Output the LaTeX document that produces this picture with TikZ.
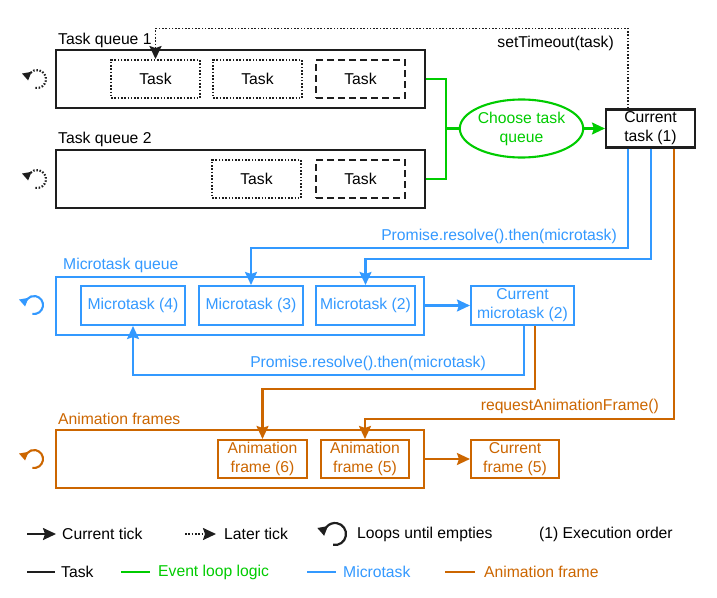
\documentclass[tikz,border=0pt]{standalone}
\usepackage{fontspec}
\setmainfont{Liberation Sans}
\usetikzlibrary{arrows.meta,shapes.geometric,calc}
\definecolor{cgreen}{HTML}{00CC00}
\definecolor{cblue}{HTML}{3399FF}
\definecolor{corange}{HTML}{CC6600}
\definecolor{cblack}{HTML}{1E1E1E}
\tikzset{
  bigbox/.style={draw, line width=2.1pt, inner sep=0pt, minimum width=368pt, minimum height=58pt},
  smallbox/.style={draw, line width=2.1pt, inner sep=0pt, align=center, minimum height=38pt},
  taskbox/.style={draw=cblack, line width=1.9pt, inner sep=0pt, minimum width=89pt, minimum height=38pt},
  dotbox/.style={taskbox, dash pattern=on 1.6pt off 1.7pt},
  dashbox/.style={taskbox, dash pattern=on 7pt off 4pt},
  lbl/.style={inner sep=0pt},
  link/.style={line width=2.1pt},
  tip/.style={-{Stealth[length=13pt,width=12pt,inset=2pt]}},
  dotlink/.style={line width=1.9pt, dash pattern=on 1.6pt off 1.7pt},
  loopy/.pic={\draw[line width=2.1pt, -{Triangle[length=8pt,width=9pt]}] (100:9) arc(100:-190:9);},
  bigloopy/.pic={\draw[line width=2.2pt, -{Triangle[length=9pt,width=10pt]}] (100:11) arc(100:-190:11);},
}
\begin{document}
\begin{tikzpicture}[x=1pt,y=-1pt,font=\fontsize{15.7}{19}\selectfont]
\useasboundingbox (0,0) rectangle (717,597);
\fill[white] (0,0) rectangle (717,597);

% ---------- task queues ----------
\node[lbl, anchor=west] (tq1lbl) at (58,40) {Task queue 1};
\node[bigbox, draw=cblack, minimum width=369pt] (tq1) at (240.5,79) {};
\node[dotbox] (t1a) at (155.5,79) {Task};
\node[dotbox] (t1b) at (257.5,79) {Task};
\node[dashbox] (t1c) at (360.5,79) {Task};

\node[lbl, anchor=west] (tq2lbl) at (58,139) {Task queue 2};
\node[bigbox, draw=cblack, minimum width=369pt] (tq2) at (240.5,179) {};
\node[dotbox] (t2a) at (256.5,179) {Task};
\node[dashbox] (t2b) at (360.5,179) {Task};

\pic[cblack, dash pattern=on 1.5pt off 1.7pt] at (37,79) {loopy};
\pic[cblack, dash pattern=on 1.5pt off 1.7pt] at (37,179) {loopy};

% ---------- choose / current task ----------
\node[ellipse, draw=cgreen, line width=2.1pt, inner sep=0pt, minimum width=119pt, minimum height=58pt,
      text=cgreen, align=center] (choose) at (521.5,128.5) {Choose task\\queue};
\node[smallbox, draw=cblack, minimum width=89pt] (cur) at (650.5,128.5) {Current\\task (1)};

\draw[link, cgreen] (tq1.east) -- ++(20,0) |- (choose.west);
\draw[link, cgreen] (tq2.east) -- ++(20,0) |- (choose.west);
\draw[link, cgreen, tip] (choose.east) -- (cur.west);

\draw[dotlink, cblack, tip] ([xshift=-22.5pt]cur.north) -- ++(0,-80) -| (t1a.north);
\node[lbl, anchor=east] (stlbl) at (614,43) {setTimeout(task)};

% ---------- microtasks ----------
\node[lbl, anchor=west, text=cblue] (mqlbl) at (63,265) {Microtask queue};
\node[bigbox, draw=cblue] (mq) at (240,306) {};
\node[smallbox, draw=cblue, text=cblue, minimum width=104pt, minimum height=39pt] (m4) at (133,305.5) {Microtask (4)};
\node[smallbox, draw=cblue, text=cblue, minimum width=104pt, minimum height=39pt] (m3) at (251,305.5) {Microtask (3)};
\node[smallbox, draw=cblue, text=cblue, minimum width=99pt, minimum height=39pt] (m2) at (365.5,305.5) {Microtask (2)};
\node[smallbox, draw=cblue, text=cblue, minimum width=103pt, minimum height=39pt] (curm) at (522.5,305.5) {Current\\microtask (2)};
\pic[cblue] at (34,305) {loopy};

\draw[link, cblue, tip] ([xshift=-22.5pt]cur.south) -- ++(0,99) -| (m3.north);
\draw[link, cblue, tip] ([xshift=0.5pt]cur.south) -- ++(0,110) -| (m2.north);
\node[lbl, anchor=east, text=cblue] (pr1) at (617,236) {Promise.resolve().then(microtask)};
\draw[link, cblue, tip] (mq.east |- curm.west) -- (curm.west);
\draw[link, cblue, tip] ([xshift=1.5pt]curm.south) -- ++(0,49) -| (m4.south);
\node[lbl, anchor=east, text=cblue] (pr2) at (486,363) {Promise.resolve().then(microtask)};

% ---------- animation frames ----------
\node[lbl, anchor=west, text=corange] (aqlbl) at (58,419) {Animation frames};
\node[bigbox, draw=corange] (aq) at (240,459) {};
\node[smallbox, draw=corange, text=corange, minimum width=89pt] (a6) at (262.5,459) {Animation\\frame (6)};
\node[smallbox, draw=corange, text=corange, minimum width=88pt] (a5) at (365,459) {Animation\\frame (5)};
\node[smallbox, draw=corange, text=corange, minimum width=88pt] (curf) at (515,459) {Current\\frame (5)};
\pic[corange] at (34,459) {loopy};

\draw[link, corange, tip] ([xshift=12.5pt]curm.south) -- ++(0,63) -| (a6.north);
\draw[link, corange, tip] ([xshift=23.5pt]cur.south) -- ++(0,270) -| (a5.north);
\node[lbl, anchor=east, text=corange] (raf) at (659,406) {requestAnimationFrame()};
\draw[link, corange, tip] (aq.east) -- (curf.west);

% ---------- legend ----------
\coordinate (la1) at (27,534); \coordinate (la2) at (56,534);
\draw[line width=2pt, cblack, tip] (la1) -- (la2);
\node[lbl, anchor=west] (lg1) at (62,534) {Current tick};
\coordinate (lb1) at (185,534); \coordinate (lb2) at (216,534);
\draw[dotlink, cblack, tip] (lb1) -- (lb2);
\node[lbl, anchor=west] (lg2) at (224,534) {Later tick};
\pic[cblack] at (335,534) {bigloopy};
\node[lbl, anchor=west] (lg3) at (357,534) {Loops until empties};
\node[lbl, anchor=west] (lg4) at (539,534) {(1) Execution order};

\coordinate (lc1) at (27,572); \coordinate (lc2) at (55,572);
\draw[line width=2.1pt, cblack] (lc1) -- (lc2);
\node[lbl, anchor=west] (lg5) at (61,572) {Task};
\coordinate (ld1) at (121,572); \coordinate (ld2) at (150,572);
\draw[line width=2.1pt, cgreen] (ld1) -- (ld2);
\node[lbl, anchor=west, text=cgreen] (lg6) at (158,572) {Event loop logic};
\coordinate (le1) at (307,572); \coordinate (le2) at (336,572);
\draw[line width=2.1pt, cblue] (le1) -- (le2);
\node[lbl, anchor=west, text=cblue] (lg7) at (343,572) {Microtask};
\coordinate (lf1) at (445,572); \coordinate (lf2) at (475,572);
\draw[line width=2.1pt, corange] (lf1) -- (lf2);
\node[lbl, anchor=west, text=corange] (lg8) at (484,572) {Animation frame};
\end{tikzpicture}
\end{document}
